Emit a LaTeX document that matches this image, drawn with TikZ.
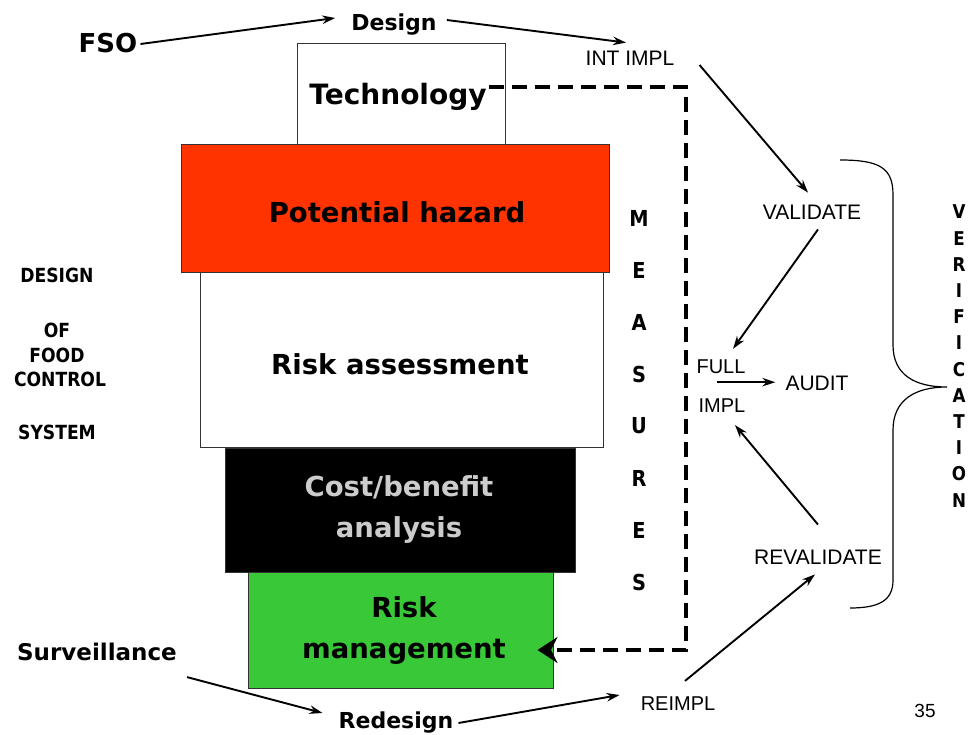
\documentclass[tikz,border=0pt]{standalone}
\usepackage{fontspec}
\setmainfont{Liberation Sans}
\newfontfamily\dv{DejaVu Sans}
\newfontfamily\dvc{DejaVu Sans}[FakeStretch=0.88]
\usetikzlibrary{arrows.meta,calc}
\definecolor{hazred}{HTML}{FF3300}
\definecolor{mgmtgreen}{HTML}{38C838}
\begin{document}
\begin{tikzpicture}[x=1pt,y=-1pt,
  lab/.style={font=\fontsize{21}{21}\selectfont, inner sep=0pt},
  blab/.style={font=\dv\bfseries\fontsize{22}{22}\selectfont, inner sep=0pt},
  boxtext/.style={font=\dv\bfseries\fontsize{27.5}{41}\selectfont, align=center, inner sep=0pt},
  side/.style={font=\dvc\bfseries\fontsize{19.5}{19.5}\selectfont, inner sep=0pt},
  letter/.style={font=\dvc\bfseries\fontsize{22}{22}\selectfont, inner sep=0pt},
  arr/.style={line width=1.9pt, -{Stealth[length=13pt,width=8.5pt]}},
  layer/.style={draw=black!80, line width=1pt, inner sep=0pt},
  dashline/.style={line width=4.5pt, dash pattern=on 15pt off 8pt, -{Stealth[length=20pt,width=26pt]}},
  bracestyle/.style={line width=1.2pt}]
\useasboundingbox (0,0) rectangle (972,735);
\fill[white] (0,0) rectangle (972,735);

% layers
\node[layer, fill=white, minimum width=208pt, minimum height=101pt] (tech) at (401,94.5) {};
\node[layer, fill=hazred, minimum width=428pt, minimum height=128pt] (haz) at (395,209) {};
\node[layer, fill=white, minimum width=403pt, minimum height=174pt] (ra) at (401.5,360) {};
\node[layer, fill=black, minimum width=350pt, minimum height=124pt] (cb) at (400,510) {};
\node[layer, fill=mgmtgreen, minimum width=305pt, minimum height=116pt] (rm) at (400.5,630) {};

\node[boxtext, font=\dv\bfseries\fontsize{28}{28}\selectfont] (techtxt) at (398,97) {Technology};
\node[boxtext] (haztxt) at (397,212) {Potential hazard};
\node[boxtext] (ratxt) at (400,364) {Risk assessment};
\node[boxtext, text=black!20] (cbtxt) at (399,510) {Cost/benefit\\analysis};
\node[boxtext] (rmtxt) at (404,631) {Risk\\management};

% top labels
\node[blab, font=\dv\bfseries\fontsize{26}{26}\selectfont] (fso) at (108,43) {FSO};
\node[blab] (design) at (394,25) {Design};
\node[lab] (intimpl) at (630,58) {INT IMPL};

% right side
\node[lab] (validate) at (812,212) {VALIDATE};
\node[lab, font=\fontsize{20}{20}\selectfont] (full) at (721,367) {FULL};
\node[lab, font=\fontsize{20}{20}\selectfont] (impl) at (722,406) {IMPL};
\node[lab] (audit) at (817,383) {AUDIT};
\node[lab] (reval) at (818,557) {REVALIDATE};
\node[lab, font=\fontsize{20}{20}\selectfont] (reimpl) at (678,704) {REIMPL};
\node[lab, font=\fontsize{19}{19}\selectfont] (pnum) at (925,711) {35};

% bottom labels
\node[blab, font=\dv\bfseries\fontsize{23}{23}\selectfont] (surv) at (97,652) {Surveillance};
\node[blab] (redesign) at (396,723) {Redesign};

% left labels
\node[side] (dsg) at (57,275) {DESIGN};
\node[side] (of) at (57,330) {OF};
\node[side] (food) at (57,355) {FOOD};
\node[side] (control) at (60,379) {CONTROL};
\node[side] (system) at (57,432) {SYSTEM};

% MEASURES
\foreach \L [count=\i from 0] in {M,E,A,S,U,R,E,S}
  \node[letter] (meas\i) at (639,{218+52*\i}) {\L};

% VERIFICATION
\foreach \L [count=\i from 0] in {V,E,R,I,F,I,C,A,T,I,O,N}
  \node[letter, font=\dvc\bfseries\fontsize{19}{19}\selectfont] (ver\i) at (959,{212+26.2*\i}) {\L};

% brace
\draw[bracestyle] (840,160) .. controls (880,160) and (893,168) .. (893,195)
  -- (893,345) .. controls (893,375) and (915,387) .. (947,387)
  .. controls (915,387) and (893,400) .. (893,430)
  -- (893,580) .. controls (893,600) and (880,608) .. (850,608);

% arrows
\draw[arr] ($(fso.east)+(3,1)$) -- ($(design.west)+(-16,-7)$);
\draw[arr] ($(design.east)+(10,-5)$) -- ($(intimpl.north)+(-4,-8)$);
\draw[arr] ($(intimpl.east)+(25,7)$) -- ($(validate.north)+(-4,-12)$);
\draw[arr] ($(validate.south)+(6,10)$) -- ($(full.north)+(12,-11)$);
\draw[arr] ($(full.south)+(-4,8)$) coordinate (fa) -- ([xshift=-10pt]fa -| audit.west);
\draw[arr] ($(reval.north)+(0,-25)$) -- ($(impl.south)+(13,12)$);
\draw[arr] ($(reimpl.north)+(7,-16)$) -- ($(reval.south)+(-3,10)$);
\draw[arr] ($(surv.south east)+(10,16)$) -- ($(redesign.west)+(-16,-10)$);
\draw[arr] ($(redesign.east)+(5,0)$) -- ($(reimpl.west)+(-21,-9)$);

% dashed measures line
\draw[dashline] ($(techtxt.east)+(2,-10)$) -- (686,87) -- (686,650) -- ($(rm.east)+(-16,20)$);
\end{tikzpicture}
\end{document}
